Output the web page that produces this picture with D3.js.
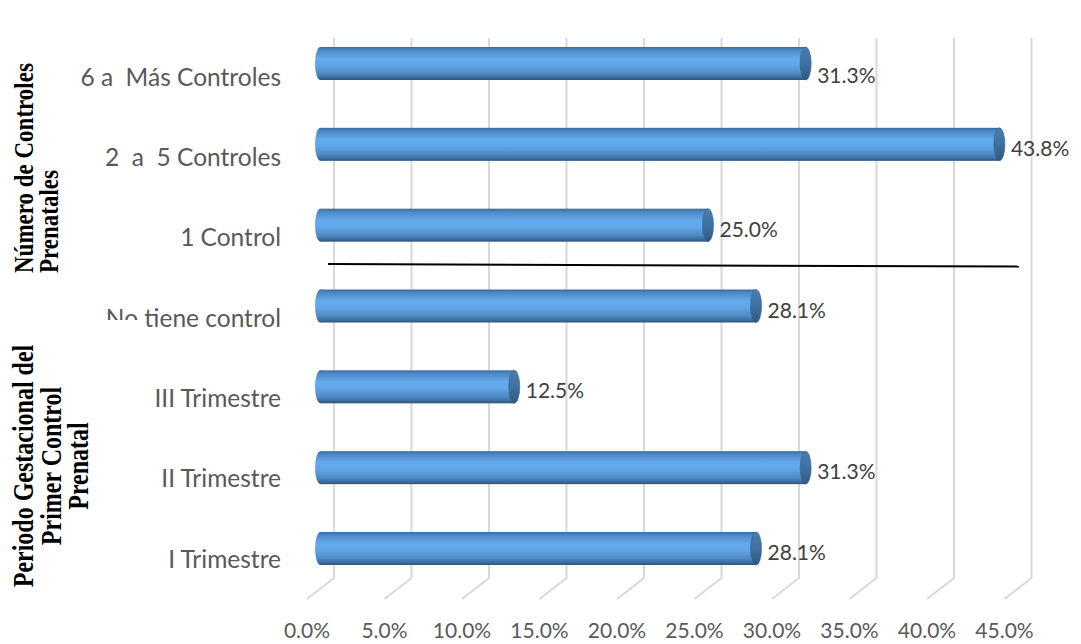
<!DOCTYPE html>
<html>
<head>
<meta charset="utf-8">
<script src="https://cdn.jsdelivr.net/npm/d3@7"></script>
<style>
  html, body { margin: 0; padding: 0; background: #ffffff; }
  svg { display: block; }
  text { white-space: pre; }
</style>
</head>
<body>
<svg id="chart" width="1081" height="644"></svg>
<script>
// Categories, top to bottom
const categories = [
  "6 a  Más Controles",
  "2  a  5 Controles",
  "1 Control",
  "No tiene control",
  "III Trimestre",
  "II Trimestre",
  "I Trimestre"
];
// Percentages per category
const values = [31.3, 43.8, 25.0, 28.1, 12.5, 31.3, 28.1];
// Axis ticks (percent)
const ticks = [0, 5, 10, 15, 20, 25, 30, 35, 40, 45];
// Group titles (rotated), one array of lines each
const groupTop = ["Número de Controles", "Prenatales"];
const groupBottom = ["Periodo Gestacional del", "Primer Control", "Prenatal"];

const svg = d3.select("#chart");
const defs = svg.append("defs");

// Cylinder body shading (vertical)
const body = defs.append("linearGradient").attr("id", "bodyGrad")
  .attr("x1", 0).attr("y1", 0).attr("x2", 0).attr("y2", 1);
[[0, "#3a6ca0"], [0.1, "#4d89c4"], [0.35, "#64aaee"], [0.55, "#62a6e8"],
 [0.8, "#4f8bc4"], [0.93, "#3c6c9c"], [1, "#2d5479"]]
  .forEach(([o, c]) => body.append("stop").attr("offset", o).attr("stop-color", c));

// End cap shading
const cap = defs.append("linearGradient").attr("id", "capGrad")
  .attr("x1", 0).attr("y1", 0).attr("x2", 0).attr("y2", 1);
[[0, "#4a7db0"], [0.5, "#3f71a2"], [1, "#30587f"]]
  .forEach(([o, c]) => cap.append("stop").attr("offset", o).attr("stop-color", c));

// Scales: back wall, front plane (axis labels) and mid depth (cylinders)
const xBack = d3.scaleLinear().domain([0, 45]).range([334, 1031.5]);
const xFront = d3.scaleLinear().domain([0, 45]).range([307, 1004.5]);
const xBar = d3.scaleLinear().domain([0, 45]).range([320.5, 1018]);
const yBar = d3.scalePoint().domain(categories).range([63.5, 548.5]);
const yLabel = d3.scalePoint().domain(categories).range([77, 559]);

const gridTop = 38, gridBottom = 578, floorFront = 599;

// Gridlines on the back wall plus their floor segments
const grid = svg.append("g").attr("stroke", "#d9d9d9").attr("stroke-width", 2).attr("fill", "none");
grid.selectAll("path").data(ticks).join("path")
  .attr("d", t => `M${xBack(t)},${gridTop}V${gridBottom}L${xFront(t)},${floorFront}`);

// Axis tick labels
const fmt = d3.format(".1f");
svg.append("g").selectAll("text").data(ticks).join("text")
  .attr("x", t => xFront(t))
  .attr("y", 630 + 0.36 * 21)
  .attr("text-anchor", "middle")
  .attr("font-family", "Lato, 'Open Sans', sans-serif")
  .attr("font-size", 21)
  .attr("fill", "#595959")
  .text(t => fmt(t) + "%");

// Cylinders
const barH = 33, capRx = 5.5;
const bars = svg.append("g").selectAll("g").data(categories).join("g");
bars.append("rect")
  .attr("x", d => xBar(0))
  .attr("y", d => yBar(d) - barH / 2)
  .attr("width", (d, i) => xBar(values[i]) - xBar(0))
  .attr("height", barH)
  .attr("fill", "url(#bodyGrad)");
bars.append("ellipse")
  .attr("cx", xBar(0))
  .attr("cy", d => yBar(d))
  .attr("rx", capRx).attr("ry", barH / 2)
  .attr("fill", "url(#bodyGrad)");
bars.append("ellipse")
  .attr("cx", (d, i) => xBar(values[i]))
  .attr("cy", d => yBar(d))
  .attr("rx", capRx).attr("ry", barH / 2)
  .attr("fill", "url(#capGrad)")
  .attr("stroke", "#36628e").attr("stroke-width", 0.6);

// Value labels (the top one sits a little lower, beside the bar's lower half)
const labelDrop = i => (i === 0 ? 12 : 4);
bars.append("text")
  .attr("x", (d, i) => xBar(values[i]) + capRx + 6)
  .attr("y", (d, i) => yBar(d) + labelDrop(i) + 0.36 * 21)
  .attr("font-family", "Lato, 'Open Sans', sans-serif")
  .attr("font-size", 21)
  .attr("fill", "#404040")
  .text((d, i) => fmt(values[i]) + "%");

// Category labels
svg.append("g").selectAll("text").data(categories).join("text")
  .attr("x", 281)
  .attr("y", d => yLabel(d) + 0.36 * 24.5)
  .attr("text-anchor", "end")
  .attr("font-family", "Lato, 'Open Sans', sans-serif")
  .attr("font-size", 24.5)
  .attr("fill", "#595959")
  .text(d => d);

// Separator between the two groups of categories
const sepY = (yBar(categories[2]) + yBar(categories[3])) / 2;
svg.append("line")
  .attr("x1", 328).attr("y1", sepY - 1.5)
  .attr("x2", 1019).attr("y2", sepY + 1)
  .attr("stroke", "#000000").attr("stroke-width", 2);

// Text box for the lower group title (white fill overlapping the label above)
svg.append("rect")
  .attr("x", 98).attr("y", 320).attr("width", 45).attr("height", 12)
  .attr("fill", "#ffffff");

// Rotated group titles (bold serif, slightly stretched across the line)
function groupTitle(lines, baselines, y, anchor, size) {
  const g = svg.append("g");
  lines.forEach((line, i) => {
    g.append("text")
      .attr("transform", `translate(${baselines[i]},${y}) rotate(-90) scale(1,1.2)`)
      .attr("text-anchor", anchor)
      .attr("font-family", "'Liberation Serif', 'Times New Roman', serif")
      .attr("font-weight", "bold")
      .attr("font-size", size)
      .attr("fill", "#000000")
      .text(line);
  });
}
groupTitle(groupTop, [33, 58], 273, "start", 23);
groupTitle(groupBottom, [33, 61, 88], 466, "middle", 24);
</script>
</body>
</html>
